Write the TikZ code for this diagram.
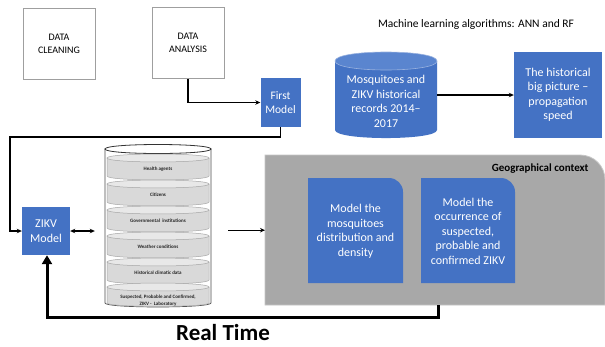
\documentclass[tikz,border=0pt]{standalone}
\usepackage{fontspec}
\setmainfont{Carlito}
\usetikzlibrary{arrows.meta}
\definecolor{zblue}{HTML}{4472C4}
\definecolor{zbluetop}{HTML}{5A85CF}
\definecolor{geogray}{HTML}{A8A8A8}
\definecolor{layergray}{HTML}{D9D9D9}
\definecolor{layertop}{HTML}{E8E8E8}
\begin{document}
\begin{tikzpicture}[x=1pt,y=-1pt,
  plainbox/.style={draw=gray!75, line width=0.8pt, minimum width=72, minimum height=71, align=center, font=\fontsize{10}{12.5}\selectfont},
  bluebox/.style={fill=zblue, text=white, align=center, inner sep=0pt, font=\fontsize{12}{14.5}\selectfont},
  bluetext/.style={text=white, align=center, inner sep=0pt, font=\fontsize{12}{14.5}\selectfont},
  conn/.style={line width=1.3pt, -{Stealth[length=5pt,width=4.5pt]}},
  dconn/.style={line width=1.3pt, {Stealth[length=5pt,width=4.5pt]}-{Stealth[length=5pt,width=4.5pt]}},
  fbconn/.style={line width=3pt, -{Triangle[length=9pt,width=10pt]}},
  layertxt/.style={inner sep=0pt, align=center, font=\fontsize{5}{6.5}\selectfont\bfseries, text=black!85}
]
\useasboundingbox[fill=white] (0,0) rectangle (605,346);

% top left boxes
\node[plainbox] (clean) at (59,44) {DATA\\CLEANING};
\node[plainbox] (anal) at (188,43) {DATA\\ANALYSIS};
\node[bluebox, minimum width=40, minimum height=49, font=\fontsize{11.5}{14.5}\selectfont] (first) at (280.5,102.5) {First\\Model};
\draw[conn] (anal.south) |- (first.west);

% ML label
\node[font=\fontsize{11.5}{13}\selectfont] (ml) at (476,24) {Machine learning algorithms: ANN and RF};

% blue cylinder
\fill[zblue] (335,61) -- (335,130) .. controls (335,140.7) and (437,140.7) .. (437,130) -- (437,61) -- cycle;
\filldraw[fill=zbluetop, draw=zblue!55!white, line width=0.6pt] (335,61) .. controls (335,49) and (437,49) .. (437,61) .. controls (437,73) and (335,73) .. (335,61) -- cycle;
\node[bluetext, minimum width=102] (hist) at (386,101.5) {Mosquitoes and\\ZIKV historical\\records 2014–\\2017};
\node[bluebox, minimum width=88, minimum height=86] (big) at (558,95) {The historical\\big picture –\\propagation\\speed};
\draw[conn] (hist.east |- big.west) -- (big.west);

% ZIKV model
\node[bluebox, minimum width=48, minimum height=48] (zikv) at (46,231) {ZIKV\\Model};
\coordinate (turn) at (10,137);
\draw[conn] (first.south) |- (turn) |- (zikv.west);

% database cylinder
\node[minimum width=106, minimum height=160, inner sep=0pt] (db) at (158,226) {};
\filldraw[fill=white, draw=black!70, line width=0.7pt] (105,149) -- (105,303) .. controls (105,308.3) and (211,308.3) .. (211,303) -- (211,149) -- cycle;
\filldraw[fill=white, draw=black!80, line width=0.8pt] (105,149) .. controls (105,143) and (211,143) .. (211,149) .. controls (211,155) and (105,155) .. (105,149) -- cycle;
\foreach \ty/\txt [count=\i] in {158/Health agents, 184/Citizens, 210/Governmental\ \ institutions, 236/Weather conditions, 262/Historical climatic data}{
  \filldraw[fill=layergray, draw=black!35, line width=0.5pt] (107,\ty) -- (107,\ty+18) .. controls (107,\ty+23.3) and (209,\ty+23.3) .. (209,\ty+18) -- (209,\ty) -- cycle;
  \filldraw[fill=layertop, draw=black!35, line width=0.5pt] (107,\ty) .. controls (107,\ty-5.3) and (209,\ty-5.3) .. (209,\ty) .. controls (209,\ty+5.3) and (107,\ty+5.3) .. (107,\ty) -- cycle;
  \node[layertxt] (L\i) at (158,\ty+11) {\txt};
}
\filldraw[fill=layergray, draw=black!35, line width=0.5pt] (107,287) -- (107,303) .. controls (107,307.5) and (209,307.5) .. (209,303) -- (209,287) -- cycle;
\filldraw[fill=layertop, draw=black!35, line width=0.5pt] (107,287) .. controls (107,281.7) and (209,281.7) .. (209,287) .. controls (209,292.3) and (107,292.3) .. (107,287) -- cycle;
\node[layertxt] (L6) at (158,300.5) {Suspected, Probable and Confirmed,\\ZIKV -\ \ Laboratory};

\coordinate (dbl) at ([xshift=-10pt]db.west);
\coordinate (dbr) at ([xshift=17pt]db.east);
\draw[dconn] (zikv.east) -- (zikv.east -| dbl);

% geographical context
\node[minimum width=340, minimum height=150, inner sep=0pt, anchor=north west] (geo) at (265,155) {};
\filldraw[fill=geogray, draw=gray!45, line width=0.8pt] (265,305) -- (265,155) -- (580,155) .. controls (594,155) and (605,166) .. (605,180) -- (605,305) -- cycle;
\node[font=\fontsize{11}{12}\selectfont\bfseries, anchor=east] (geot) at (592,169) {Geographical context};
\draw[conn] (dbr |- geo.west) -- (geo.west);

\fill[zblue] (308,283) -- (308,178) -- (389,178) .. controls (396.7,178) and (403,184.3) .. (403,192) -- (403,283) -- cycle;
\node[bluetext, minimum width=95, minimum height=105] (m1) at (355.5,231.5) {Model the\\mosquitoes\\distribution and\\density};
\fill[zblue] (421,283) -- (421,178) -- (501,178) .. controls (508.7,178) and (515,184.3) .. (515,192) -- (515,283) -- cycle;
\node[bluetext, minimum width=94, minimum height=105] (m2) at (468,231) {Model the\\occurrence of\\suspected,\\probable and\\confirmed ZIKV};

% real time feedback
\coordinate (fbs) at (438,305);
\coordinate (fbb) at (47,317);
\draw[fbconn] (fbs) |- (fbb) -- (fbb |- zikv.south);
\node[font=\fontsize{23}{25}\selectfont\bfseries] (rt) at (223,333) {Real Time};
\end{tikzpicture}
\end{document}
